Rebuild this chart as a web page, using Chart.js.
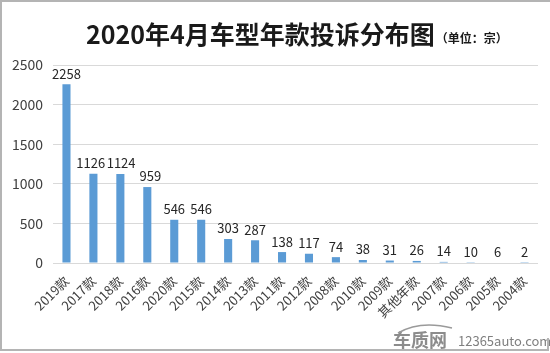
<!DOCTYPE html>
<html><head><meta charset="utf-8">
<script src="https://cdn.jsdelivr.net/npm/chart.js@4/dist/chart.umd.min.js"></script>
<style>html,body{margin:0;padding:0;background:#fff}#wrap{width:550px;height:353px;position:relative}</style>
</head><body><div id="wrap"><canvas id="c" width="550" height="353"></canvas></div>
<script>
const categories = ["2019款","2017款","2018款","2016款","2020款","2015款","2014款","2013款","2011款","2012款","2008款","2010款","2009款","其他年款","2007款","2006款","2005款","2004款"];
const complaints = [2258,1126,1124,959,546,546,303,287,138,117,74,38,31,26,14,10,6,2];
const yTicks = [0,500,1000,1500,2000,2500];
const titleText = "2020年4月车型年款投诉分布图";
const unitText = "（单位：宗）";
const brandText = "车质网";
const siteText = "12365auto.com";

const FONT = '"Noto Sans CJK SC","Noto Sans",sans-serif';

const deco = {
  id: 'deco',
  afterDraw(chart) {
    const ctx = chart.ctx;
    ctx.save();
    // value labels with simple overlap avoidance
    const meta = chart.getDatasetMeta(0);
    ctx.fillStyle = '#262626';
    ctx.font = '13px ' + FONT;
    ctx.textAlign = 'center';
    ctx.textBaseline = 'bottom';
    const boxes = meta.data.map((bar, i) => {
      const t = String(complaints[i]);
      const w = ctx.measureText(t).width;
      return { t, x: bar.x, y: bar.y - 4, w };
    });
    for (let i = 1; i < boxes.length; i++) {
      const a = boxes[i - 1], b = boxes[i];
      if (Math.abs(a.y - b.y) < 14) {
        const need = (a.w + b.w) / 2 + 4 - (b.x - a.x);
        if (need > 0) { a.x -= need * 0.45; b.x += need * 0.55; }
      }
    }
    boxes.forEach(b => ctx.fillText(b.t, b.x, b.y));
    // title
    ctx.fillStyle = '#1a1a1a';
    ctx.textBaseline = 'alphabetic';
    ctx.textAlign = 'left';
    ctx.font = 'bold 25px ' + FONT;
    const tw = ctx.measureText(titleText).width;
    const x0 = 86;
    ctx.fillText(titleText, x0, 44);
    ctx.font = 'bold 12px ' + FONT;
    ctx.fillText(unitText, x0 + tw + 1, 43);
    // watermark
    ctx.fillStyle = '#8c8c8c';
    ctx.font = 'bold 18px ' + FONT;
    ctx.fillText(brandText, 393, 347);
    ctx.font = '13px ' + FONT;
    ctx.fillStyle = '#7f7f7f';
    ctx.fillText(siteText, 458, 346);
    ctx.strokeStyle = '#9a9a9a';
    ctx.lineWidth = 1.5;
    ctx.beginPath();
    ctx.moveTo(398, 333);
    ctx.quadraticCurveTo(420, 320, 452, 328);
    ctx.stroke();
    // frame
    ctx.strokeStyle = '#b4b4b4';
    ctx.lineWidth = 2;
    ctx.beginPath();
    ctx.moveTo(548, 338); ctx.lineTo(548, 350); ctx.lineTo(1, 350); ctx.lineTo(1, 1); ctx.lineTo(550, 1);
    ctx.stroke();
    ctx.restore();
  }
};

new Chart(document.getElementById('c'), {
  type: 'bar',
  data: {
    labels: categories,
    datasets: [{
      data: complaints,
      backgroundColor: '#5B9BD5',
      barPercentage: 0.3,
      categoryPercentage: 1.0
    }]
  },
  options: {
    responsive: false,
    animation: false,
    devicePixelRatio: 1,
    layout: { padding: { top: 65, right: 12, left: 0, bottom: 0 } },
    plugins: { legend: { display: false }, tooltip: { enabled: false } },
    scales: {
      x: {
        grid: { display: false },
        border: { display: false },
        ticks: {
          color: '#404040',
          font: { size: 13, family: FONT },
          maxRotation: 45, minRotation: 45,
          autoSkip: false,
          padding: 2
        },
        afterFit(scale) { scale.height = 90; }
      },
      y: {
        min: 0, max: 2500,
        grid: { color: '#D9D9D9', lineWidth: 1, drawTicks: false },
        border: { display: false },
        afterBuildTicks(scale) { scale.ticks = yTicks.map(v => ({ value: v })); },
        ticks: {
          color: '#404040',
          font: { size: 14, family: FONT },
          padding: 10,
          callback: (v) => String(v)
        },
        afterFit(scale) { scale.width = 53; }
      }
    }
  },
  plugins: [deco]
});
</script></body></html>
